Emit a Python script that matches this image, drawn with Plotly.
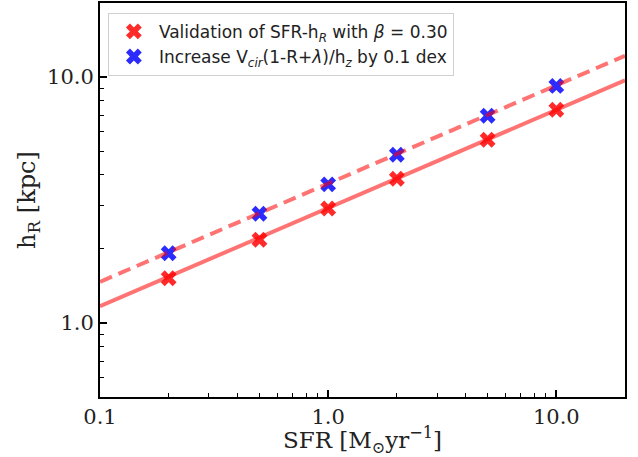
import plotly.graph_objects as go

sfr = [0.2, 0.5, 1.0, 2.0, 5.0, 10.0]
hr_valid = [1.52, 2.18, 2.92, 3.86, 5.56, 7.36]
hr_increase = [1.92, 2.78, 3.66, 4.83, 6.96, 9.2]

fit_x = [0.1, 20.0]
fit_solid = [1.17, 9.7]
fit_dashed = [1.47, 12.2]

x_tickvals = [0.1, 1.0, 10.0]
x_ticktext = ["0.1", "1.0", "10.0"]
y_tickvals = [1.0, 10.0]
y_ticktext = ["1.0", "10.0"]
x_minor = [0.2, 0.3, 0.4, 0.5, 0.6, 0.7, 0.8, 0.9, 2, 3, 4, 5, 6, 7, 8, 9]
y_minor = [0.5, 0.6, 0.7, 0.8, 0.9, 2, 3, 4, 5, 6, 7, 8, 9]

fig = go.Figure()
fig.add_trace(go.Scatter(x=sfr, y=hr_valid, mode="markers",
                         marker=dict(symbol="x", size=14, color="rgba(255,20,20,0.9)", line=dict(width=0)),
                         name="Validation of SFR-h<sub><i>R</i></sub> with <i>β</i> = 0.30"))
fig.add_trace(go.Scatter(x=sfr, y=hr_increase, mode="markers",
                         marker=dict(symbol="x", size=14, color="rgba(20,20,255,0.9)", line=dict(width=0)),
                         name="Increase V<sub><i>cir</i></sub>(1-R+<i>λ</i>)/h<sub><i>z</i></sub> by 0.1 dex"))
fig.add_trace(go.Scatter(x=fit_x, y=fit_solid, mode="lines", showlegend=False,
                         line=dict(color="rgba(255,0,0,0.55)", width=4)))
fig.add_trace(go.Scatter(x=fit_x, y=fit_dashed, mode="lines", showlegend=False,
                         line=dict(color="rgba(255,0,0,0.55)", width=4, dash="13px,7px")))

axis_common = dict(showline=True, linecolor="black", linewidth=2, mirror=True,
                   ticks="inside", ticklen=7, tickwidth=1.5, tickcolor="black",
                   showgrid=False, zeroline=False,
                   tickfont=dict(family="DejaVu Serif", size=21, color="#222"))

fig.update_xaxes(type="log", range=[-1, 1.30103], tickvals=x_tickvals, ticktext=x_ticktext,
                 minor=dict(tickvals=x_minor, ticks="inside", ticklen=4, tickwidth=1.2, tickcolor="black"),
                 title=dict(text="SFR [M<sub>⊙</sub>yr<sup>−1</sup>]", font=dict(family="DejaVu Serif", size=23, color="#222"), standoff=9),
                 **axis_common)
fig.update_yaxes(type="log", range=[-0.30103, 1.30103], tickvals=y_tickvals, ticktext=y_ticktext,
                 minor=dict(tickvals=y_minor, ticks="inside", ticklen=4, tickwidth=1.2, tickcolor="black"),
                 title=dict(text="h<sub>R</sub> [kpc]", font=dict(family="DejaVu Serif", size=24, color="#222"), standoff=5),
                 **axis_common)

fig.update_layout(width=638, height=457, margin=dict(l=100, r=13, t=3, b=60, autoexpand=False),
                  plot_bgcolor="white", paper_bgcolor="white",
                  legend=dict(x=0.015, y=0.975, xanchor="left", yanchor="top",
                              bgcolor="rgba(255,255,255,0.85)", bordercolor="#d0d0d0", borderwidth=1,
                              font=dict(family="DejaVu Sans", size=17, color="#222"),
                              itemwidth=40))

fig.write_html("out.html", config={"displayModeBar": False},
               post_script="document.body.style.margin='0';")
